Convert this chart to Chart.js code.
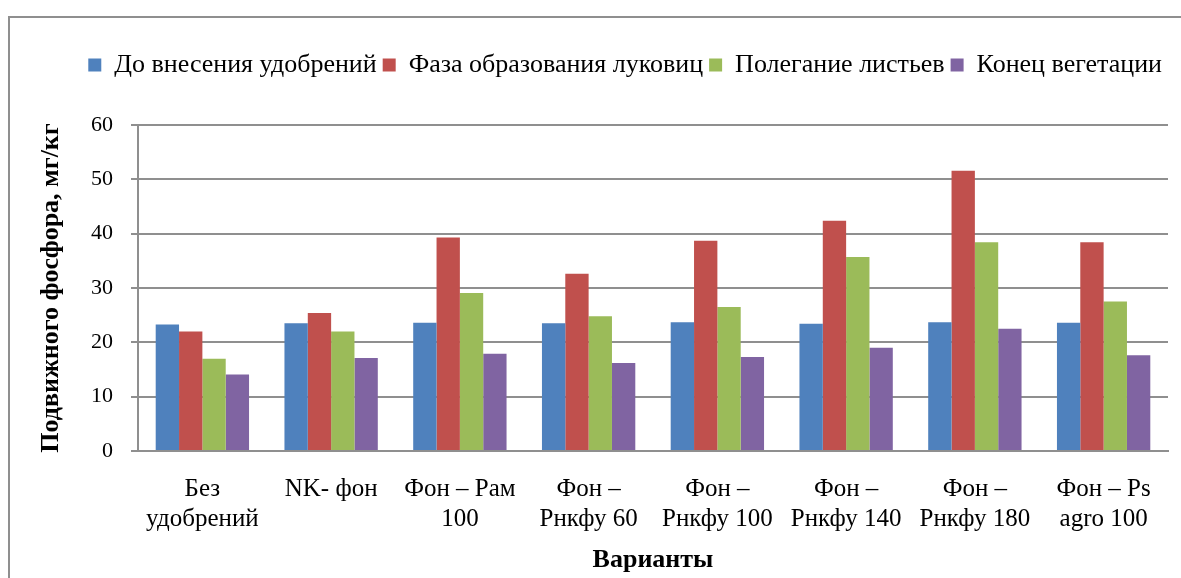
<!DOCTYPE html>
<html>
<head>
<meta charset="utf-8">
<script src="https://cdn.jsdelivr.net/npm/chart.js"></script>
<style>
  html, body { margin: 0; padding: 0; background: #fff; overflow: hidden; }
  #frame { position: absolute; left: 8px; top: 16px; width: 1200px; height: 600px; border: 2px solid #8f8f8f; }
  #chart { position: absolute; left: 0; top: 0; }
</style>
</head>
<body>
<div id="frame"></div>
<canvas id="chart" width="1181" height="578"></canvas>
<script>
const categories = [
    ['Без', 'удобрений'],
    'NK- фон',
    ['Фон – Рам', '100'],
    ['Фон –', 'Рнкфу 60'],
    ['Фон –', 'Рнкфу 100'],
    ['Фон –', 'Рнкфу 140'],
    ['Фон –', 'Рнкфу 180'],
    ['Фон – Ps', 'agro 100']
];
const beforeFert = [23.3, 23.5, 23.6, 23.5, 23.7, 23.4, 23.7, 23.6];
const bulbPhase = [22.0, 25.4, 39.3, 32.6, 38.7, 42.4, 51.6, 38.4];
const leafLodging = [17.0, 22.0, 29.1, 24.8, 26.5, 35.7, 38.4, 27.5];
const vegEnd = [14.1, 17.1, 17.9, 16.2, 17.3, 19.0, 22.5, 17.6];

const font = "'Liberation Serif', 'Times New Roman', serif";
Chart.defaults.font.family = font;
Chart.defaults.color = '#000';

// legend takes the space down to the top of the plot
const legendGap = {
    id: 'legendGap',
    afterInit(chart) {
        const lg = chart.legend;
        const fit = lg.fit;
        lg.fit = function () {
            fit.call(this);
            this.height = 79;
        };
    }
};

const ctx = document.getElementById('chart').getContext('2d');
new Chart(ctx, {
    type: 'bar',
    data: {
        labels: categories,
        datasets: [
            { label: 'До внесения удобрений', data: beforeFert, backgroundColor: '#4F81BD' },
            { label: 'Фаза образования луковиц', data: bulbPhase, backgroundColor: '#C0504D' },
            { label: 'Полегание листьев', data: leafLodging, backgroundColor: '#9BBB59' },
            { label: 'Конец вегетации', data: vegEnd, backgroundColor: '#8064A2' }
        ]
    },
    options: {
        responsive: false,
        animation: false,
        layout: { padding: { left: 32, right: 13, top: 46, bottom: 0 } },
        datasets: { bar: { barPercentage: 1, categoryPercentage: 0.725, borderWidth: 0 } },
        plugins: {
            tooltip: { enabled: false },
            legend: {
                position: 'top',
                align: 'end',
                labels: {
                    color: '#000',
                    font: { family: font, size: 26 },
                    boxWidth: 13,
                    boxHeight: 13,
                    padding: 6
                }
            }
        },
        scales: {
            x: {
                grid: { display: false },
                border: { display: true, color: '#8f8f8f', width: 2 },
                ticks: {
                    color: '#000',
                    font: { family: font, size: 25, lineHeight: 1.2 },
                    maxRotation: 0,
                    autoSkip: false,
                    padding: 15
                },
                title: {
                    display: true,
                    text: 'Варианты',
                    color: '#000',
                    font: { family: font, size: 26, weight: 'bold' },
                    padding: { top: 4, bottom: 2 }
                },
                afterFit(scale) { scale.height = 127; }
            },
            y: {
                min: 0,
                max: 60,
                ticks: {
                    stepSize: 10,
                    color: '#000',
                    font: { family: font, size: 22 },
                    padding: 18
                },
                grid: { color: '#8f8f8f', lineWidth: 2, tickLength: 7 },
                border: { display: true, color: '#8f8f8f', width: 2 },
                title: {
                    display: true,
                    text: 'Подвижного фосфора, мг/кг',
                    color: '#000',
                    font: { family: font, size: 26, weight: 'bold' }
                },
                afterFit(scale) { scale.width = 106; }
            }
        }
    },
    plugins: [legendGap]
});
</script>
</body>
</html>
